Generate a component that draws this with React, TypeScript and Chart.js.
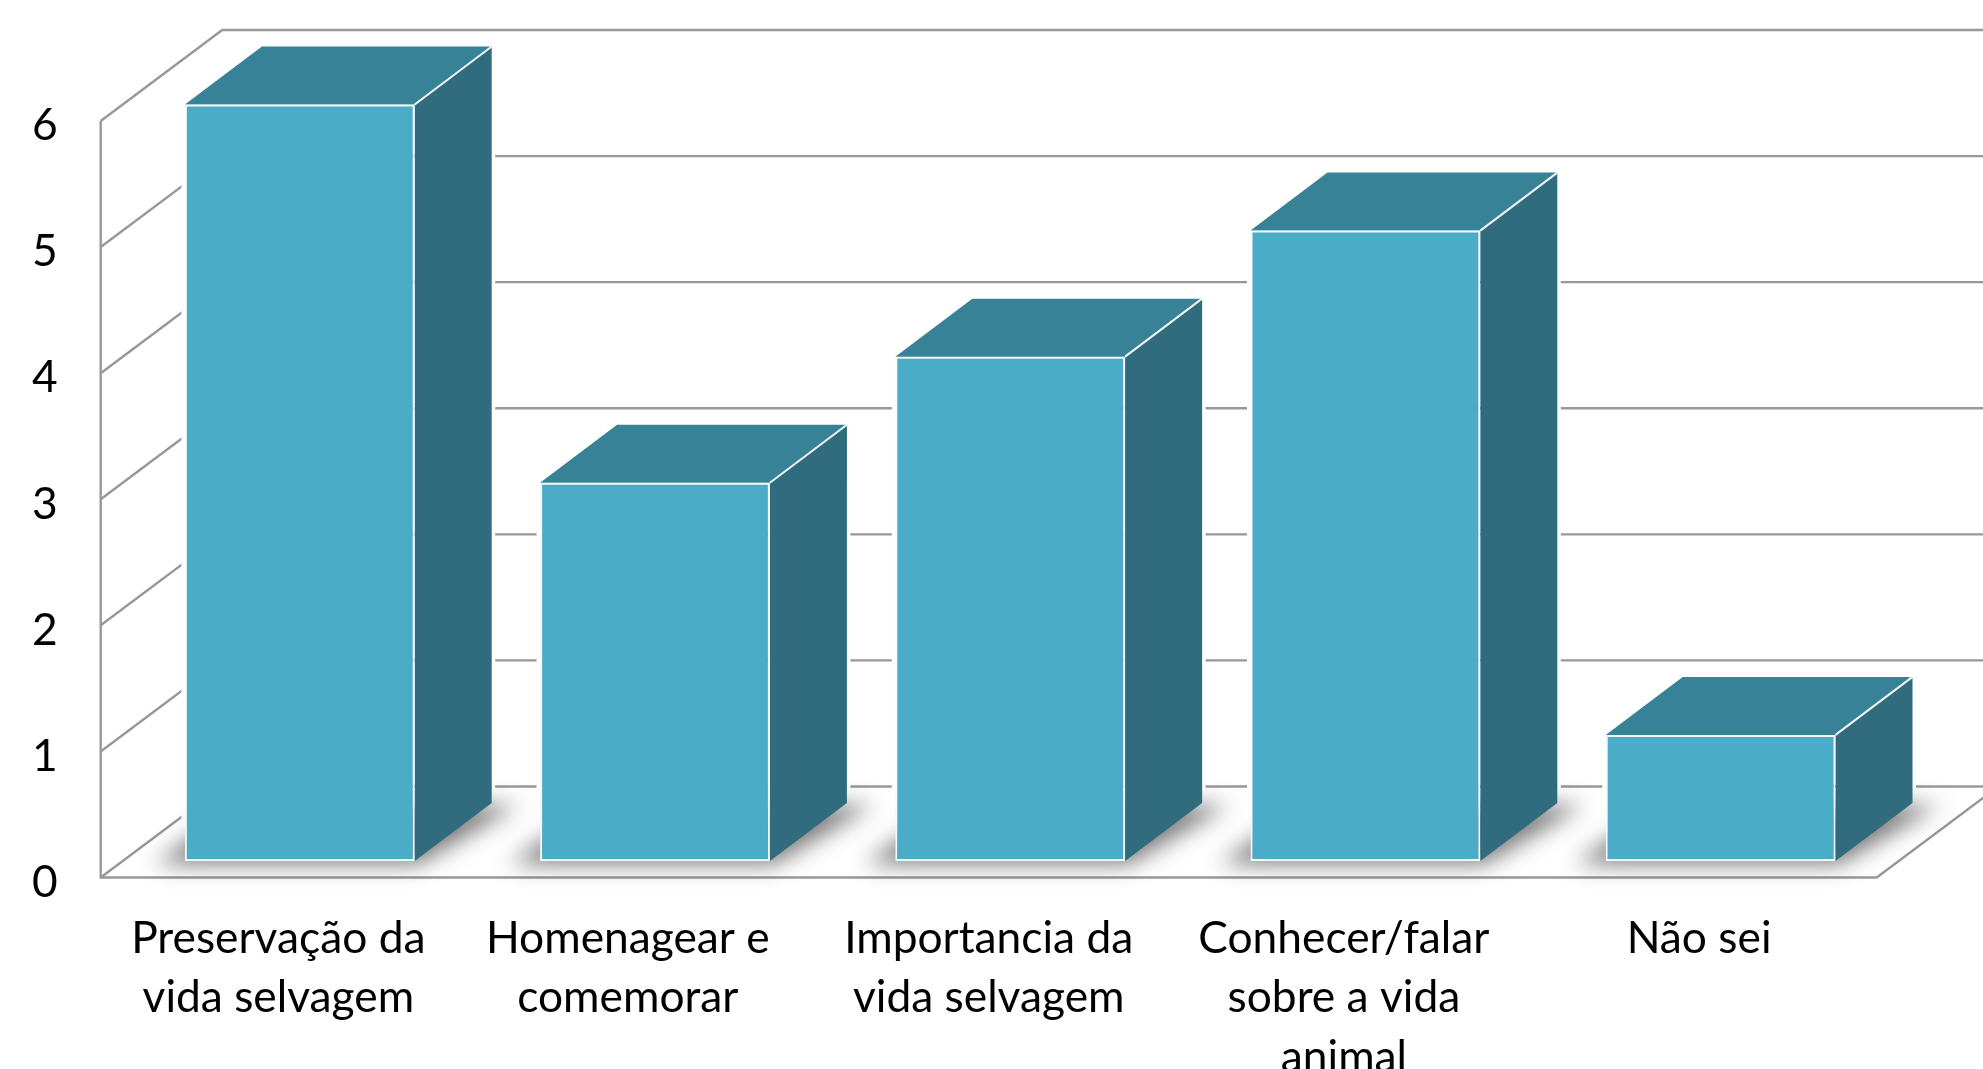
import React, { useEffect, useRef } from "react";
import { Chart, registerables } from "chart.js";

Chart.register(...registerables);

const categories = [
  ["Preservação da", "vida selvagem"],
  ["Homenagear e ", "comemorar "],
  ["Importancia da", "vida selvagem"],
  ["Conhecer/falar", "sobre a vida", "animal"],
  ["Não sei"],
];
const seriesValues = [6, 3, 4, 5, 1];
const yTickStep = 1;
const yMax = 6;

const WALL_DX = 121.5;
const WALL_DY = -91;
const BAR_DX = 77;
const BAR_DY = -58;
const BAR_SHIFT_X = 21.5;
const BAR_SHIFT_Y = -16.5;
const GRID = "#989898";
const FRONT = "#4BACC8";
const TOP = "#388298";
const SIDE = "#316C7E";
const FONT_FAMILY = "Lato, Carlito, sans-serif";

function poly(ctx: CanvasRenderingContext2D, pts: number[][]) {
  ctx.beginPath();
  pts.forEach((p, i) => (i ? ctx.lineTo(p[0], p[1]) : ctx.moveTo(p[0], p[1])));
  ctx.closePath();
}

const threeD = {
  id: "threeD",
  beforeDatasetsDraw(chart: any) {
    const { ctx, scales } = chart;
    const { x, y } = scales;
    const left = x.left;
    const right = x.right;
    const y0 = y.getPixelForValue(0);
    const yT = y.getPixelForValue(yMax);

    ctx.save();
    ctx.strokeStyle = GRID;
    ctx.lineWidth = 2.4;
    ctx.lineJoin = "miter";
    y.ticks.forEach((t: any) => {
      const py = y.getPixelForValue(t.value);
      ctx.beginPath();
      ctx.moveTo(left, py);
      ctx.lineTo(left + WALL_DX, py + WALL_DY);
      ctx.lineTo(chart.width + 5, py + WALL_DY);
      ctx.stroke();
    });
    ctx.beginPath();
    ctx.moveTo(left, yT);
    ctx.lineTo(left, y0);
    ctx.lineTo(right, y0);
    ctx.lineTo(right + WALL_DX, y0 + WALL_DY);
    ctx.stroke();
    ctx.restore();

    const meta = chart.getDatasetMeta(0);
    ctx.save();
    ctx.translate(BAR_SHIFT_X, BAR_SHIFT_Y);
    const rects = meta.data.map((bar: any) => {
      const { x: cx, y: top, base, width } = bar.getProps(["x", "y", "base", "width"], true);
      return { L: cx - width / 2, R: cx + width / 2, top, base };
    });
    // white halo masks the grid next to each bar
    rects.forEach(({ L, R, top, base }: any) => {
      ctx.strokeStyle = "#FFFFFF";
      ctx.lineWidth = 7;
      ctx.lineJoin = "round";
      poly(ctx, [
        [L, base],
        [L, top],
        [L + BAR_DX, top + BAR_DY],
        [R + BAR_DX, top + BAR_DY],
        [R + BAR_DX, base + BAR_DY],
        [R, base],
      ]);
      ctx.stroke();
    });
    // soft shadow on the floor
    rects.forEach(({ L, R, base }: any) => {
      ctx.save();
      ctx.shadowColor = "rgba(70,70,70,0.72)";
      ctx.shadowBlur = 22;
      ctx.shadowOffsetX = 5000;
      ctx.fillStyle = "#000";
      poly(ctx, [
        [L - 30 - 5000, base + 3],
        [R + 4 - 5000, base + 3],
        [R + BAR_DX + 26 - 5000, base + BAR_DY + 2],
        [L + 55 - 5000, base + BAR_DY + 2],
      ]);
      ctx.fill();
      ctx.restore();
    });
    rects.forEach(({ L, R, top, base }: any) => {
      ctx.fillStyle = TOP;
      poly(ctx, [
        [L, top],
        [R, top],
        [R + BAR_DX, top + BAR_DY],
        [L + BAR_DX, top + BAR_DY],
      ]);
      ctx.fill();
      ctx.fillStyle = SIDE;
      poly(ctx, [
        [R, top],
        [R + BAR_DX, top + BAR_DY],
        [R + BAR_DX, base + BAR_DY],
        [R, base],
      ]);
      ctx.fill();
      ctx.strokeStyle = "#F2F6F7";
      ctx.lineWidth = 2;
      ctx.beginPath();
      ctx.moveTo(R, top);
      ctx.lineTo(R + BAR_DX, top + BAR_DY);
      ctx.stroke();
    });
  },
  afterDatasetsDraw(chart: any) {
    chart.ctx.restore();
  },
};

export default function App() {
  const ref = useRef<HTMLCanvasElement | null>(null);
  useEffect(() => {
    if (!ref.current) return;
    const chart = new Chart(ref.current, {
      type: "bar",
      data: {
        labels: categories,
        datasets: [
          {
            data: seriesValues,
            backgroundColor: FRONT,
            borderColor: "#F4F8F9",
            borderWidth: 2,
            borderSkipped: false,
            barPercentage: 0.647,
            categoryPercentage: 1,
            clip: false,
          } as any,
        ],
      },
      options: {
        responsive: false,
        animation: false,
        devicePixelRatio: 1,
        events: [],
        layout: { padding: { top: 121, right: 106.3, left: 0, bottom: 0 } },
        plugins: { legend: { display: false }, tooltip: { enabled: false }, title: { display: false } },
        scales: {
          x: {
            grid: { display: false },
            border: { display: false },
            afterFit(s: any) {
              s.height = 191.5;
            },
            ticks: {
              autoSkip: false,
              maxRotation: 0,
              minRotation: 0,
              padding: 24,
              color: "#000000",
              font: { family: FONT_FAMILY, size: 44.3, lineHeight: 1.335 },
            },
          },
          y: {
            min: 0,
            max: yMax,
            grid: { display: false },
            border: { display: false },
            afterFit(s: any) {
              s.width = 100.7;
            },
            ticks: {
              stepSize: yTickStep,
              padding: 35,
              labelOffset: 5,
              color: "#000000",
              font: { family: FONT_FAMILY, size: 44.3 },
            },
          },
        },
      },
      plugins: [threeD],
    } as any);
    return () => chart.destroy();
  }, []);
  return (
    <div style={{ position: "fixed", left: 0, top: 0, width: 1983, height: 1069, background: "#fff" }}>
      <canvas ref={ref} width={1983} height={1069} style={{ display: "block", width: 1983, height: 1069 }} />
    </div>
  );
}
